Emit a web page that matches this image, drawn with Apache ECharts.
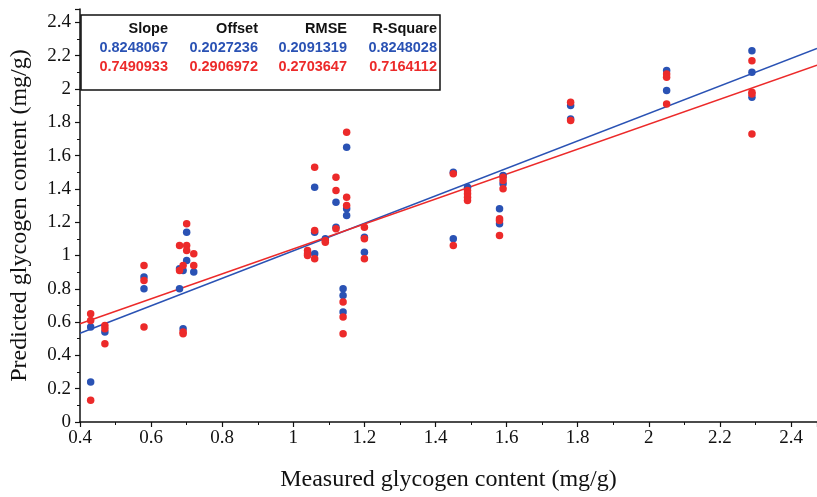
<!DOCTYPE html>
<html>
<head>
    <meta charset="utf-8" />
    <title>Glycogen content</title>
    <script type="text/javascript" src="https://cdn.jsdelivr.net/npm/echarts@6/dist/echarts.min.js"></script>
    <style>
        html, body { margin: 0; padding: 0; background: #fff; }
        #con1 { width: 817px; height: 497px; }
    </style>
</head>
<body>
    <div id="con1"></div>
    <script type="text/javascript">
        // blue set: measured vs predicted
        var blueData = [
            [0.43, 0.57], [0.43, 0.24],
            [0.47, 0.54],
            [0.58, 0.87], [0.58, 0.80],
            [0.68, 0.92], [0.68, 0.80], [0.69, 0.91], [0.69, 0.56], [0.70, 1.14], [0.70, 0.97], [0.72, 0.90],
            [1.06, 1.41], [1.06, 1.14], [1.06, 1.01], [1.09, 1.10], [1.12, 1.32], [1.12, 1.17],
            [1.15, 1.65], [1.15, 1.28], [1.15, 1.24], [1.14, 0.80], [1.14, 0.76], [1.14, 0.66],
            [1.20, 1.11], [1.20, 1.02],
            [1.45, 1.50], [1.45, 1.10], [1.49, 1.41], [1.59, 1.48], [1.59, 1.43], [1.58, 1.28], [1.58, 1.19],
            [1.78, 1.90], [1.78, 1.82],
            [2.05, 2.11], [2.05, 1.99],
            [2.29, 2.23], [2.29, 2.10], [2.29, 1.95]
        ];
        // red set
        var redData = [
            [0.43, 0.65], [0.43, 0.61], [0.43, 0.13],
            [0.47, 0.58], [0.47, 0.56], [0.47, 0.47],
            [0.58, 0.94], [0.58, 0.85], [0.58, 0.57],
            [0.68, 1.06], [0.68, 0.91], [0.69, 0.94], [0.69, 0.54], [0.69, 0.53],
            [0.70, 1.19], [0.70, 1.06], [0.70, 1.03], [0.72, 1.01], [0.72, 0.94],
            [1.04, 1.03], [1.04, 1.01], [1.04, 1.00], [1.06, 1.53], [1.06, 1.15], [1.06, 0.98],
            [1.09, 1.09], [1.09, 1.08], [1.12, 1.47], [1.12, 1.39], [1.12, 1.16],
            [1.15, 1.74], [1.15, 1.35], [1.15, 1.30], [1.14, 0.72], [1.14, 0.63], [1.14, 0.53],
            [1.20, 1.17], [1.20, 1.10], [1.20, 0.98],
            [1.45, 1.49], [1.45, 1.06], [1.49, 1.39], [1.49, 1.37], [1.49, 1.35], [1.49, 1.33],
            [1.59, 1.47], [1.59, 1.45], [1.59, 1.40], [1.58, 1.22], [1.58, 1.21], [1.58, 1.12],
            [1.78, 1.92], [1.78, 1.81],
            [2.05, 2.09], [2.05, 2.07], [2.05, 1.91],
            [2.29, 2.17], [2.29, 1.98], [2.29, 1.97], [2.29, 1.73]
        ];

        // fit table
        var tableHeader = ["Slope", "Offset", "RMSE", "R-Square"];
        var blueStats = ["0.8248067", "0.2027236", "0.2091319", "0.8248028"];
        var redStats = ["0.7490933", "0.2906972", "0.2703647", "0.7164112"];
        var blueSlope = 0.8248067, blueOffset = 0.2027236;
        var redSlope = 0.7490933, redOffset = 0.2906972;

        var xMin = 0.4, xMax = 2.473;
        var blueColor = '#2a52b4';
        var redColor = '#ec2a2a';

        function fitLine(k, b) {
            return [[xMin, k * xMin + b], [xMax, k * xMax + b]];
        }

        var colRight = [168, 258, 347, 437];
        var tableText = [];
        var rows = [[tableHeader, '#111', 29], [blueStats, blueColor, 48], [redStats, redColor, 67]];
        rows.forEach(function (r) {
            r[0].forEach(function (t, i) {
                tableText.push({
                    type: 'text',
                    x: colRight[i],
                    y: r[2],
                    style: {
                        text: t,
                        fill: r[1],
                        font: 'bold 14.5px "Liberation Sans", Arial, sans-serif',
                        textAlign: 'right',
                        textVerticalAlign: 'middle'
                    },
                    z: 101
                });
            });
        });

        var axisFont = '"Liberation Serif", "Times New Roman", serif';
        var myChart1 = echarts.init(document.getElementById('con1'), null, { renderer: 'canvas' });
        var option1 = {
            backgroundColor: '#fff',
            animation: false,
            grid: { left: 80, right: 0, top: 9, bottom: 66 },
            xAxis: {
                type: 'value',
                min: xMin,
                max: xMax,
                interval: 0.2,
                name: 'Measured glycogen content (mg/g)',
                nameLocation: 'middle',
                nameGap: 46,
                nameTextStyle: { fontFamily: axisFont, fontSize: 24, color: '#111' },
                axisLine: { show: true, onZero: false, lineStyle: { color: '#111', width: 1.5 } },
                axisTick: { show: true, length: 5, lineStyle: { color: '#111', width: 1.2 } },
                minorTick: { show: true, splitNumber: 2, length: 3, lineStyle: { color: '#111', width: 1 } },
                axisLabel: { fontFamily: axisFont, fontSize: 19, color: '#111', margin: 7, showMaxLabel: false },
                splitLine: { show: false }
            },
            yAxis: {
                type: 'value',
                min: 0,
                max: 2.48,
                interval: 0.2,
                name: 'Predicted glycogen content (mg/g)',
                nameLocation: 'middle',
                nameGap: 48,
                nameTextStyle: { fontFamily: axisFont, fontSize: 24, color: '#111' },
                axisLine: { show: true, lineStyle: { color: '#111', width: 1.5 } },
                axisTick: { show: true, length: 5, lineStyle: { color: '#111', width: 1.2 } },
                minorTick: { show: true, splitNumber: 2, length: 3, lineStyle: { color: '#111', width: 1 } },
                axisLabel: { fontFamily: axisFont, fontSize: 19, color: '#111', margin: 9, showMaxLabel: false },
                splitLine: { show: false }
            },
            graphic: [
                {
                    type: 'rect',
                    shape: { x: 81, y: 15, width: 359, height: 75 },
                    style: { fill: '#fff', stroke: '#111', lineWidth: 1.5 },
                    z: 100
                }
            ].concat(tableText),
            series: [
                {
                    type: 'line',
                    data: fitLine(blueSlope, blueOffset),
                    symbol: 'none',
                    lineStyle: { color: blueColor, width: 1.5 },
                    z: 1
                },
                {
                    type: 'line',
                    data: fitLine(redSlope, redOffset),
                    symbol: 'none',
                    lineStyle: { color: redColor, width: 1.5 },
                    z: 1
                },
                {
                    type: 'scatter',
                    data: blueData,
                    symbolSize: 7.5,
                    itemStyle: { color: blueColor, opacity: 1 },
                    z: 2
                },
                {
                    type: 'scatter',
                    data: redData,
                    symbolSize: 7.5,
                    itemStyle: { color: redColor, opacity: 1 },
                    z: 3
                }
            ]
        };
        option1 && myChart1.setOption(option1);
    </script>
</body>
</html>
